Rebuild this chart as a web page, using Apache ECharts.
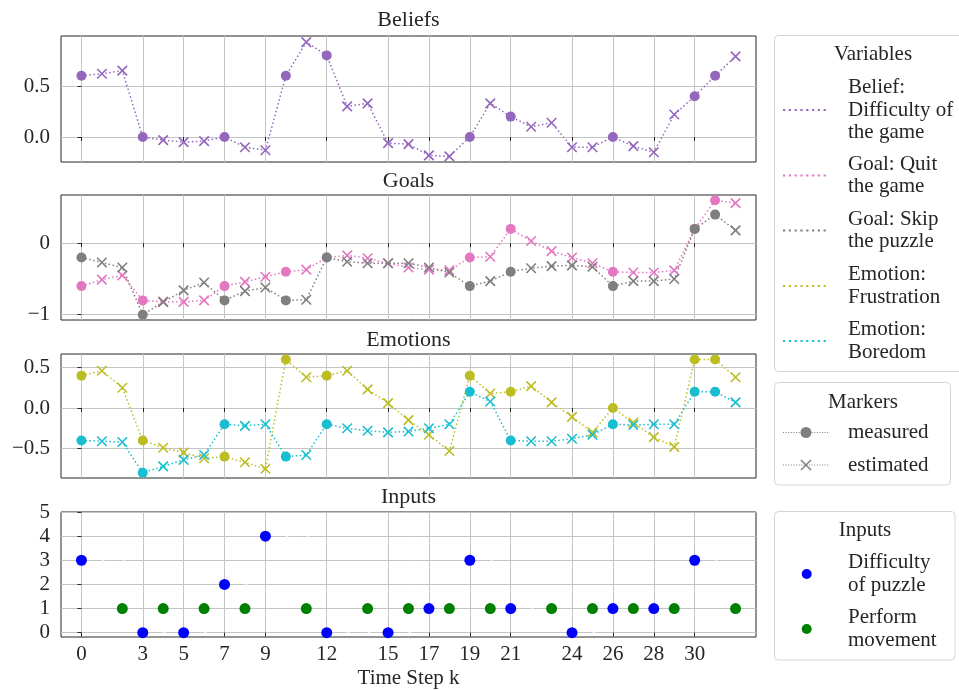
<!DOCTYPE html>
<html>
<head>
<meta charset="utf-8">
<script src="https://cdn.jsdelivr.net/npm/echarts@6/dist/echarts.min.js"></script>
<style>
  html, body { margin: 0; padding: 0; background: #ffffff; }
  #chart { width: 959px; height: 691px; }
</style>
</head>
<body>
<div id="chart"></div>
<script>
// Time steps of the trajectory
const steps = [0, 1, 2, 3, 4, 5, 6, 7, 8, 9, 10, 11, 12, 13, 14, 15, 16,
               17, 18, 19, 20, 21, 22, 23, 24, 25, 26, 27, 28, 29, 30, 31, 32];
// Steps at which the variables were measured (all others are estimated)
const measuredSteps = [0, 3, 7, 10, 12, 19, 21, 26, 30, 31];

// Beliefs
const beliefDifficulty = [0.60, 0.62, 0.65, 0.00, -0.03, -0.05, -0.04, 0.00, -0.10, -0.13, 0.60,
                          0.93, 0.80, 0.30, 0.33, -0.06, -0.07, -0.18, -0.19, 0.00, 0.33, 0.20,
                          0.10, 0.14, -0.10, -0.10, 0.00, -0.09, -0.15, 0.22, 0.40, 0.60, 0.79];
// Goals
const goalQuit = [-0.60, -0.51, -0.45, -0.80, -0.82, -0.82, -0.80, -0.60, -0.54, -0.47, -0.40,
                  -0.37, -0.20, -0.17, -0.21, -0.28, -0.34, -0.37, -0.38, -0.20, -0.19, 0.20,
                  0.03, -0.11, -0.20, -0.28, -0.40, -0.41, -0.41, -0.38, 0.20, 0.60, 0.56];
const goalSkip = [-0.20, -0.27, -0.34, -1.00, -0.82, -0.66, -0.55, -0.80, -0.67, -0.62, -0.80,
                  -0.79, -0.20, -0.26, -0.28, -0.28, -0.28, -0.34, -0.41, -0.60, -0.53, -0.40,
                  -0.35, -0.32, -0.31, -0.33, -0.60, -0.53, -0.53, -0.50, 0.20, 0.40, 0.18];
// Emotions
const emotionFrustration = [0.40, 0.46, 0.25, -0.40, -0.49, -0.55, -0.62, -0.60, -0.67, -0.75, 0.60,
                            0.38, 0.40, 0.46, 0.23, 0.06, -0.15, -0.33, -0.53, 0.40, 0.18, 0.20,
                            0.27, 0.07, -0.11, -0.30, 0.00, -0.18, -0.36, -0.48, 0.60, 0.60, 0.38];
const emotionBoredom = [-0.40, -0.41, -0.42, -0.80, -0.72, -0.64, -0.58, -0.20, -0.22, -0.20, -0.60,
                        -0.58, -0.20, -0.25, -0.28, -0.30, -0.29, -0.25, -0.20, 0.20, 0.08, -0.40,
                        -0.41, -0.41, -0.38, -0.33, -0.20, -0.21, -0.20, -0.20, 0.20, 0.20, 0.07];
// Inputs
const difficultySteps = [0, 3, 5, 7, 9, 12, 15, 17, 19, 21, 24, 26, 28, 30];
const difficultyLevels = [3, 0, 0, 2, 4, 0, 0, 1, 3, 1, 0, 1, 1, 3];
const movementSteps = [2, 4, 6, 8, 11, 14, 16, 18, 20, 23, 25, 27, 29, 32];
const movementValues = [1, 1, 1, 1, 1, 1, 1, 1, 1, 1, 1, 1, 1, 1];

// Axis ticks
const xTicks = [0, 3, 5, 7, 9, 12, 15, 17, 19, 21, 24, 26, 28, 30];
const beliefTicks = [0, 0.5];
const goalTicks = [-1, 0];
const emotionTicks = [-0.5, 0, 0.5];
const inputTicks = [0, 1, 2, 3, 4, 5];

// Panel and legend texts
const panelTitles = ['Beliefs', 'Goals', 'Emotions', 'Inputs'];
const variableNames = ['Belief:\nDifficulty of\nthe game', 'Goal: Quit\nthe game', 'Goal: Skip\nthe puzzle',
                       'Emotion:\nFrustration', 'Emotion:\nBoredom'];
const markerNames = ['measured', 'estimated'];
const inputNames = ['Difficulty\nof puzzle', 'Perform\nmovement'];
const xAxisTitle = 'Time Step k';

const FONT = 'Liberation Serif';
const FS = 21;
const TEXT = '#262626';
const COLORS = {
  belief: '#9467bd', quit: '#e377c2', skip: '#7f7f7f',
  frustration: '#bcbd22', boredom: '#17becf',
  difficulty: '#0000ff', movement: '#008000'
};
const CROSS = 'path://M0,0L10,10M10,0L0,10';
const GRID_COLOR = '#c4c4c4';
const SPINE = '#262626';

const PLOT_LEFT = 61;
const PLOT_WIDTH = 695;
const panels = [
  { top: 36,  height: 126, min: -0.245, max: 0.99, ticks: beliefTicks,  fmt: v => v.toFixed(1) },
  { top: 195, height: 125, min: -1.074, max: 0.674, ticks: goalTicks,   fmt: v => String(v) },
  { top: 354, height: 124, min: -0.864, max: 0.667, ticks: emotionTicks, fmt: v => v.toFixed(1) },
  { top: 512, height: 125, min: -0.18, max: 5, ticks: inputTicks,       fmt: v => String(v) }
];
const minus = s => s.replace('-', '\u2212');

const grids = panels.map(p => ({
  left: PLOT_LEFT, width: PLOT_WIDTH, top: p.top, height: p.height,
  show: true, borderColor: SPINE, borderWidth: 1, backgroundColor: 'transparent'
}));

const xAxes = panels.map((p, i) => ({
  type: 'value', gridIndex: i, min: -1, max: 33,
  axisLine: { show: false },
  axisTick: { show: true, inside: false, length: 4, customValues: xTicks, lineStyle: { color: SPINE, width: 1 } },
  axisLabel: {
    show: i === 3, customValues: xTicks, margin: 7,
    fontFamily: FONT, fontSize: FS, color: TEXT
  },
  splitLine: { show: true, lineStyle: { color: GRID_COLOR, width: 1 } },
  name: i === 3 ? xAxisTitle : '',
  nameLocation: 'middle', nameGap: 31,
  nameTextStyle: { fontFamily: FONT, fontSize: FS, color: TEXT }
}));

const yAxes = panels.map((p, i) => ({
  type: 'value', gridIndex: i, min: p.min, max: p.max,
  axisLine: { show: false },
  axisTick: { show: true, inside: false, length: 4, customValues: p.ticks, lineStyle: { color: SPINE, width: 1 } },
  axisLabel: {
    customValues: p.ticks, margin: 11,
    fontFamily: FONT, fontSize: FS, color: TEXT,
    formatter: v => minus(p.fmt(v))
  },
  splitLine: { show: true, lineStyle: { color: GRID_COLOR, width: 1 } }
}));

// A dotted trajectory: circles where measured, crosses where estimated
function trajectory(name, values, color, gridIndex) {
  const data = steps.map((k, j) => {
    const measured = measuredSteps.indexOf(k) >= 0;
    return measured
      ? { value: [k, values[j]], symbol: 'circle', symbolSize: 10,
          itemStyle: { color: color, borderWidth: 0 } }
      : { value: [k, values[j]], symbol: CROSS, symbolSize: 9.5,
          itemStyle: { color: color, borderColor: color, borderWidth: 1.6 } };
  });
  return {
    type: 'line', name: name, xAxisIndex: gridIndex, yAxisIndex: gridIndex,
    data: data, showSymbol: true, showAllSymbol: true, silent: true,
    lineStyle: { color: color, width: 1.5, type: [1.5, 2.5] },
    itemStyle: { color: color }
  };
}

const pairs = (xs, ys) => xs.map((x, j) => [x, ys[j]]);

// Each difficulty level is held until the next change (last one until the final step)
const holdSegments = difficultySteps.map((k, j) => ({
  coords: [[k, difficultyLevels[j]],
           [j + 1 < difficultySteps.length ? difficultySteps[j + 1] : steps[steps.length - 1], difficultyLevels[j]]]
}));

const series = [
  trajectory('Belief: Difficulty of the game', beliefDifficulty, COLORS.belief, 0),
  trajectory('Goal: Quit the game', goalQuit, COLORS.quit, 1),
  trajectory('Goal: Skip the puzzle', goalSkip, COLORS.skip, 1),
  trajectory('Emotion: Frustration', emotionFrustration, COLORS.frustration, 2),
  trajectory('Emotion: Boredom', emotionBoredom, COLORS.boredom, 2),
  {
    type: 'lines', name: 'difficulty-hold', coordinateSystem: 'cartesian2d',
    xAxisIndex: 3, yAxisIndex: 3, data: holdSegments, silent: true, z: 1,
    lineStyle: { color: '#ffffff', width: 1.5, type: [2.5, 18], opacity: 1 }
  },
  {
    type: 'scatter', name: 'Difficulty of puzzle', xAxisIndex: 3, yAxisIndex: 3,
    data: pairs(difficultySteps, difficultyLevels), symbolSize: 11, silent: true,
    itemStyle: { color: COLORS.difficulty, opacity: 1 }, z: 3
  },
  {
    type: 'scatter', name: 'Perform movement', xAxisIndex: 3, yAxisIndex: 3,
    data: pairs(movementSteps, movementValues), symbolSize: 11, silent: true,
    itemStyle: { color: COLORS.movement, opacity: 1 }, z: 3
  }
];

// Titles and legends
const titleY = [20, 181, 340, 497];
const graphic = [];
panelTitles.forEach((t, i) => {
  graphic.push({ type: 'text', x: PLOT_LEFT + PLOT_WIDTH / 2, y: titleY[i], silent: true,
    style: { text: t, fontFamily: FONT, fontSize: FS + 1, fill: TEXT, align: 'center', verticalAlign: 'middle' } });
});

function box(x, y, w, h) {
  return { type: 'rect', shape: { x: x, y: y, width: w, height: h, r: 4 }, silent: true,
    style: { fill: '#ffffff', stroke: '#d4d4d4', lineWidth: 1 } };
}
function label(text, x, y, align) {
  return { type: 'text', x: x, y: y, silent: true,
    style: { text: text, fontFamily: FONT, fontSize: FS, fill: TEXT, lineHeight: 22.5,
             align: align || 'left', verticalAlign: 'middle' } };
}
const LEG_X0 = 783, LEG_X1 = 829, LEG_MID = 806, LEG_TEXT = 848;

// Variables legend
graphic.push(box(774.5, 35.5, 200, 336));
graphic.push(label('Variables', 873, 54, 'center'));
const varColors = [COLORS.belief, COLORS.quit, COLORS.skip, COLORS.frustration, COLORS.boredom];
const varY = [110, 175.5, 230.5, 286, 341];
variableNames.forEach((n, i) => {
  graphic.push({ type: 'line', silent: true, shape: { x1: LEG_X0, y1: varY[i], x2: LEG_X1, y2: varY[i] },
    style: { stroke: varColors[i], lineWidth: 2.2, lineDash: [2.2, 3.6] } });
  graphic.push(label(n, LEG_TEXT, varY[i]));
});

// Markers legend
graphic.push(box(774.5, 382.5, 176, 102.5));
graphic.push(label('Markers', 863, 402, 'center'));
const markY = [432.5, 465];
markerNames.forEach((n, i) => {
  graphic.push({ type: 'line', silent: true, shape: { x1: LEG_X0, y1: markY[i], x2: LEG_X1, y2: markY[i] },
    style: { stroke: COLORS.skip, lineWidth: 1, lineDash: [1, 1.6] } });
  if (i === 0) {
    graphic.push({ type: 'circle', silent: true, shape: { cx: LEG_MID, cy: markY[i], r: 5.5 },
      style: { fill: COLORS.skip } });
  } else {
    graphic.push({ type: 'polyline', silent: true,
      shape: { points: [[LEG_MID - 5, markY[i] - 5], [LEG_MID + 5, markY[i] + 5]] },
      style: { stroke: COLORS.skip, lineWidth: 1.5 } });
    graphic.push({ type: 'polyline', silent: true,
      shape: { points: [[LEG_MID + 5, markY[i] - 5], [LEG_MID - 5, markY[i] + 5]] },
      style: { stroke: COLORS.skip, lineWidth: 1.5 } });
  }
  graphic.push(label(n, LEG_TEXT, markY[i]));
});

// Inputs legend
graphic.push(box(774.5, 511.5, 180.5, 148.5));
graphic.push(label('Inputs', 865, 530, 'center'));
const inColors = [COLORS.difficulty, COLORS.movement];
const inY = [574, 629];
inputNames.forEach((n, i) => {
  graphic.push({ type: 'circle', silent: true, shape: { cx: 806.7, cy: inY[i], r: 5 },
    style: { fill: inColors[i] } });
  graphic.push(label(n, LEG_TEXT, inY[i]));
});

const chart = echarts.init(document.getElementById('chart'), null, { renderer: 'canvas' });
chart.setOption({
  animation: false,
  backgroundColor: '#ffffff',
  grid: grids,
  xAxis: xAxes,
  yAxis: yAxes,
  series: series,
  graphic: graphic
});
</script>
</body>
</html>
